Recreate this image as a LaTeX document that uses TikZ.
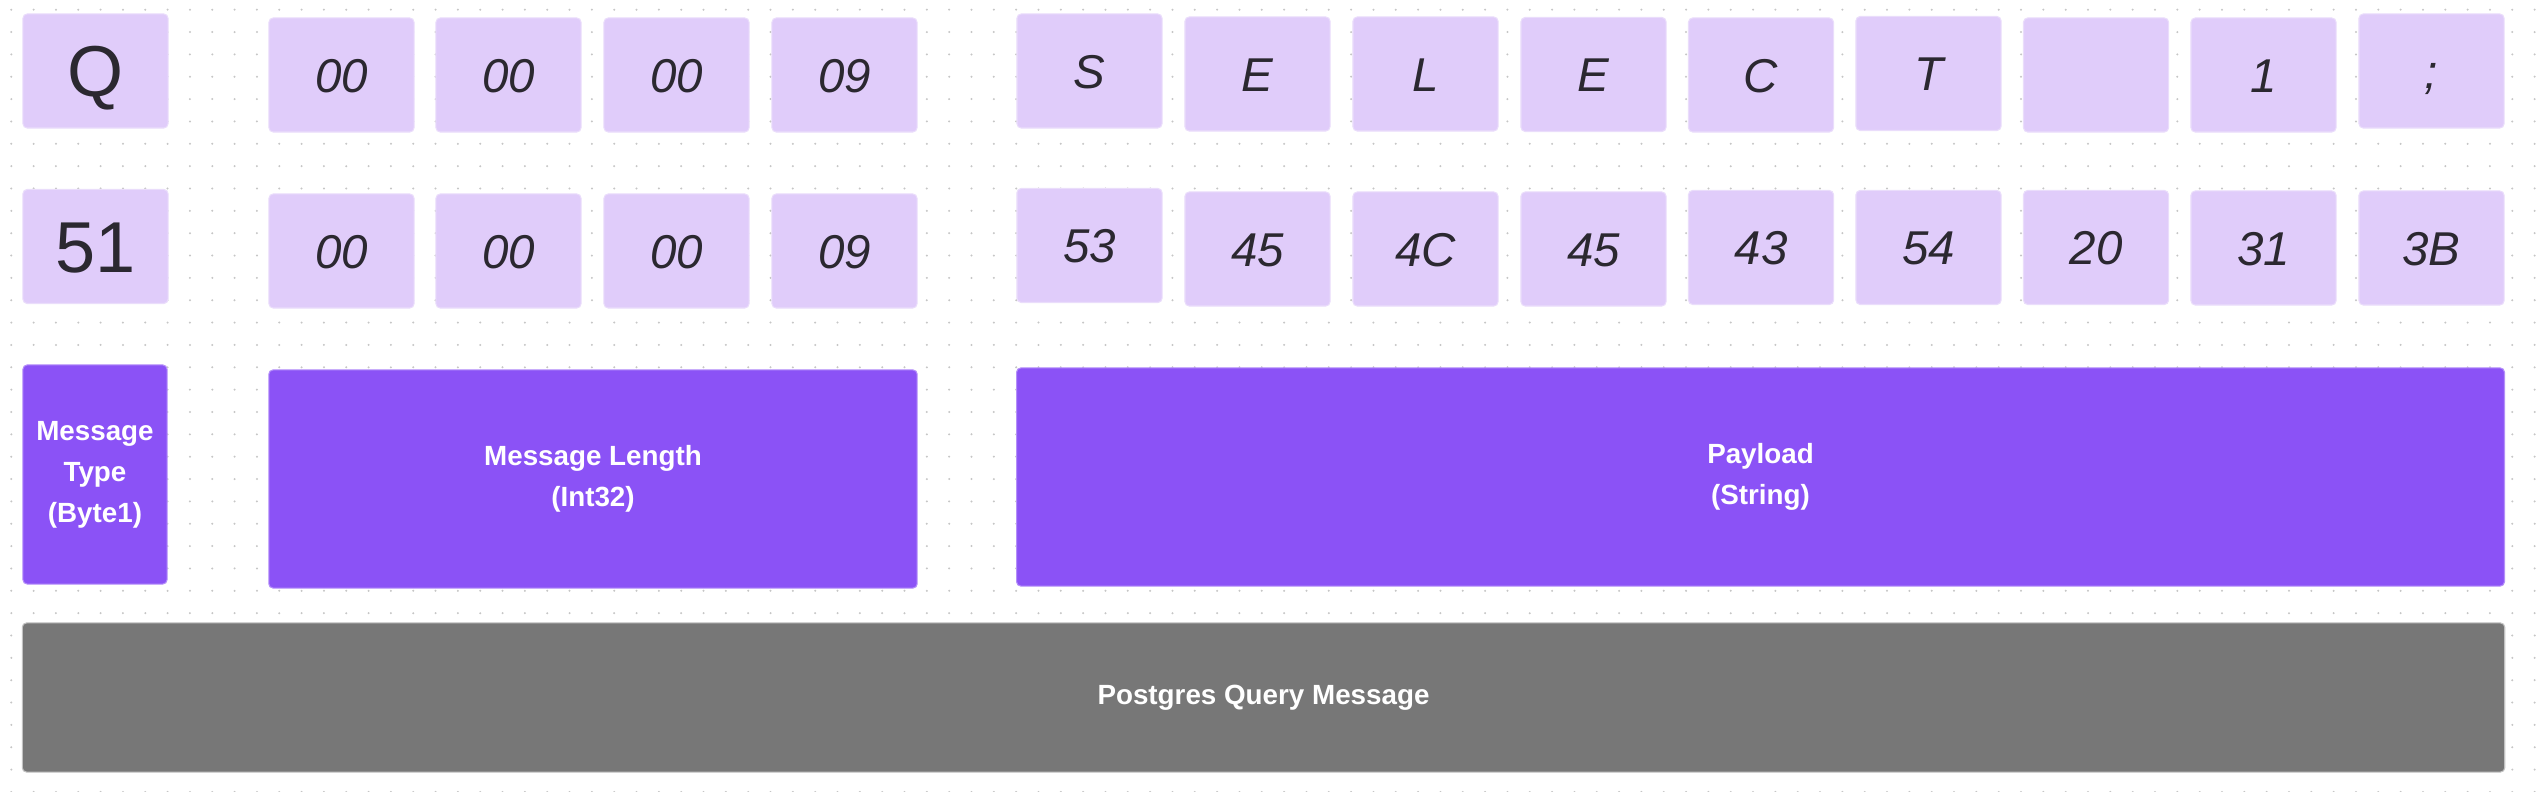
\documentclass[tikz,border=0pt]{standalone}
\usepackage{fontspec}
\setmainfont{Liberation Sans}
\usepackage{xcolor}
\usepackage{tikz}
\usetikzlibrary{positioning}

\definecolor{bytefill}{HTML}{E0CCFA}
\definecolor{byteedge}{HTML}{EADDFB}
\definecolor{fieldfill}{HTML}{8B52F6}
\definecolor{msgfill}{HTML}{777777}
\definecolor{inkdark}{HTML}{2B2830}
\definecolor{griddot}{HTML}{C6C6C6}

\tikzset{
  bytebox/.style={rectangle,rounded corners=1.2pt,fill=bytefill,draw=byteedge,line width=0.3pt,
    minimum width=1.45cm,minimum height=1.14cm,inner sep=0pt,text=inkdark,text depth=0pt},
  typebyte/.style={bytebox,text height=14.7pt,font=\fontsize{20.5}{24}\selectfont},
  hexbyte/.style={bytebox,text height=9.7pt,font=\fontsize{13.5}{16}\selectfont\itshape},
  fieldbox/.style={rectangle,rounded corners=1.2pt,fill=fieldfill,draw=fieldfill!65!white,line width=0.3pt,
    inner sep=0pt,text=white,align=center,font=\fontsize{7.9}{11.7}\selectfont\bfseries},
  msgbox/.style={fieldbox,fill=msgfill,draw=msgfill!45!white}
}

\begin{document}
\begin{tikzpicture}[x=0.01cm,y=-0.01cm]
  \useasboundingbox (0,0) rectangle (2540,792);
  % dotted canvas
  \foreach \i in {0,...,113}
    \foreach \j in {0,...,35}
      \fill[griddot] (11.3+22.33*\i,9.7+22.35*\j) circle (0.32pt);

  % message type byte
  \node[typebyte] (chQ) at (95.5,71) {Q};
  \node[typebyte] (hx51) at (95.5,246.5) {51};

  % length bytes
  \foreach \x/\v [count=\k] in {341.5/00,508.5/00,676.5/00,844.5/09} {
    \node[hexbyte] (lenA\k) at (\x,75) {\v};
    \node[hexbyte] (lenB\k) at (\x,251) {\v};
  }

  % payload bytes
  \foreach \x/\ya/\yb/\ch/\hx [count=\k] in {1089.5/71/245.5/S/53,1257.5/74/249/E/45,
      1425.5/74/249/L/4C,1593.5/74.5/249/E/45,1761/75/247.5/C/43,1928.5/73.5/247.5/T/54,
      2096/75/247.5/{}/20,2263.5/75/248/1/31,2431.5/71/248/;/3B} {
    \node[hexbyte] (payA\k) at (\x,\ya) {\ch};
    \node[hexbyte] (payB\k) at (\x,\yb) {\hx};
  }

  % fields
  \node[fieldbox,minimum width=1.44cm,minimum height=2.19cm] (ftype) at (95,474.5) {Message\\Type\\(Byte1)};
  \node[fieldbox,minimum width=6.48cm,minimum height=2.18cm] (flen) at (593,479) {Message Length\\(Int32)};
  \node[fieldbox,minimum width=14.87cm,minimum height=2.18cm] (fpay) at (1760.5,477) {Payload\\(String)};

  % whole message
  \node[msgbox,minimum width=24.81cm,minimum height=1.49cm] (qmsg) at (1263.5,697.5) {Postgres Query Message};
\end{tikzpicture}
\end{document}
